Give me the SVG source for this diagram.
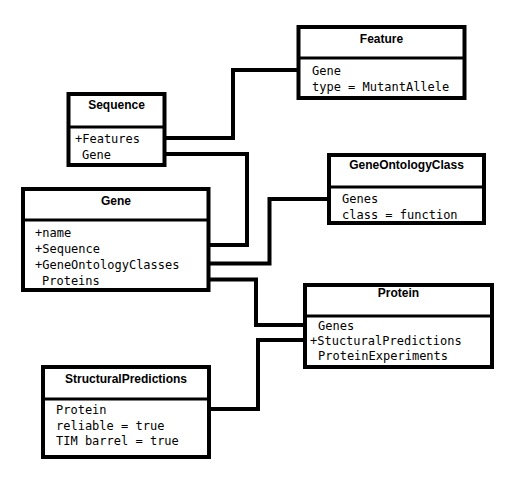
<svg xmlns="http://www.w3.org/2000/svg" width="520" height="481" viewBox="0 0 520 481">
  <style>
    .box { fill: #fff; stroke: #000; stroke-width: 4; }
    .div { stroke: #000; stroke-width: 3; }
    .title { font-family: "Liberation Sans", Arial, sans-serif; font-weight: bold; font-size: 12px; text-anchor: middle; fill: #000; }
    .attr { font-family: "DejaVu Sans Mono", "Liberation Mono", monospace; font-size: 12px; fill: #000; }
    .link { fill: none; stroke: #000; stroke-width: 4; }
  </style>
  <rect width="520" height="481" fill="#fff"/>

  <g id="connectors">
    <path class="link" d="M166,138 H233 V70 H297"/>
    <path class="link" d="M166,154 H247 V245 H209"/>
    <path class="link" d="M209,263.5 H269.5 V199 H327"/>
    <path class="link" d="M209,279.5 H256 V325 H303"/>
    <path class="link" d="M209,409 H258 V340 H303"/>
  </g>

  <g id="feature">
    <rect class="box" x="298.5" y="27" width="166" height="71"/>
    <line class="div" x1="298.5" y1="58" x2="464.5" y2="58"/>
    <text class="title" x="381.5" y="43">Feature</text>
    <text class="attr" x="312" y="75">Gene</text>
    <text class="attr" x="312" y="91">type = MutantAllele</text>
  </g>

  <g id="sequence">
    <rect class="box" x="68.5" y="94" width="96" height="71"/>
    <line class="div" x1="68.5" y1="127" x2="164.5" y2="127"/>
    <text class="title" x="116.5" y="109">Sequence</text>
    <text class="attr" x="75" y="143">+Features</text>
    <text class="attr" x="82" y="159">Gene</text>
  </g>

  <g id="gene">
    <rect class="box" x="23" y="189" width="185.5" height="101"/>
    <line class="div" x1="23" y1="220" x2="208.5" y2="220"/>
    <text class="title" x="116" y="205">Gene</text>
    <text class="attr" x="35" y="237">+name</text>
    <text class="attr" x="35" y="253">+Sequence</text>
    <text class="attr" x="35" y="269">+GeneOntologyClasses</text>
    <text class="attr" x="42" y="285">Proteins</text>
  </g>

  <g id="geneontologyclass">
    <rect class="box" x="329" y="155" width="155" height="68"/>
    <line class="div" x1="329" y1="187" x2="484" y2="187"/>
    <text class="title" x="406.5" y="169">GeneOntologyClass</text>
    <text class="attr" x="342" y="203">Genes</text>
    <text class="attr" x="342" y="219">class = function</text>
  </g>

  <g id="protein">
    <rect class="box" x="305" y="285" width="187" height="82"/>
    <line class="div" x1="305" y1="316" x2="492" y2="316"/>
    <text class="title" x="398.5" y="297">Protein</text>
    <text class="attr" x="318" y="330">Genes</text>
    <text class="attr" x="310" y="345">+StucturalPredictions</text>
    <text class="attr" x="318" y="360">ProteinExperiments</text>
  </g>

  <g id="structuralpredictions">
    <rect class="box" x="43" y="367" width="166" height="90"/>
    <line class="div" x1="43" y1="399" x2="209" y2="399"/>
    <text class="title" x="126" y="383">StructuralPredictions</text>
    <text class="attr" x="56" y="414">Protein</text>
    <text class="attr" x="56" y="430">reliable = true</text>
    <text class="attr" x="56" y="445">TIM barrel = true</text>
  </g>
</svg>
